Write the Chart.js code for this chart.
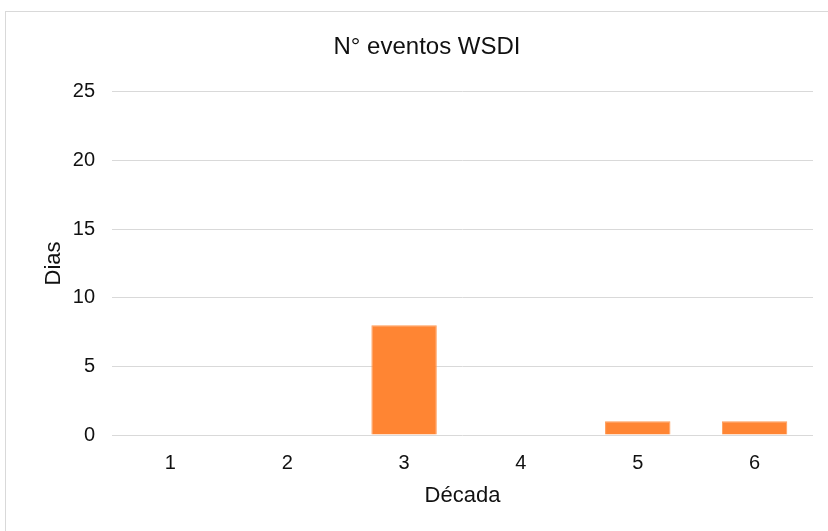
<!DOCTYPE html>
<html>
<head>
<meta charset="utf-8">
<script src="https://cdn.jsdelivr.net/npm/chart.js@4/dist/chart.umd.min.js"></script>
<style>
  html, body { margin: 0; padding: 0; background: #fff; overflow: hidden; }
  #frame {
    position: absolute; left: 5px; top: 11px; width: 860px; height: 560px;
    border: 1px solid #d9d9d9;
  }
  #wrap { position: absolute; left: 0; top: 0; width: 828px; height: 531px; }
</style>
</head>
<body>
<div id="frame"></div>
<div id="wrap"><canvas id="chart"></canvas></div>
<script>
// data
const decadas = ['1', '2', '3', '4', '5', '6'];
const eventos = [0, 0, 8, 0, 1, 1];
const yMax = 25;
const yStep = 5;

Chart.defaults.font.family = "'Liberation Sans', Arial, sans-serif";
Chart.defaults.color = '#111';

const ctx = document.getElementById('chart').getContext('2d');
new Chart(ctx, {
  type: 'bar',
  data: {
    labels: decadas,
    datasets: [{
      label: 'N° eventos WSDI',
      data: eventos,
      backgroundColor: '#FF8533',
      borderColor: '#FF9a55',
      borderWidth: 1,
      categoryPercentage: 1,
      barPercentage: 0.56
    }]
  },
  options: {
    responsive: true,
    maintainAspectRatio: false,
    animation: false,
    layout: { padding: { left: 41, right: 15, top: 33, bottom: 22 } },
    plugins: {
      legend: { display: false },
      tooltip: { enabled: false },
      title: {
        display: true,
        text: 'N° eventos WSDI',
        font: { size: 24, weight: 'normal' },
        color: '#111',
        padding: { top: 0, bottom: 30 }
      }
    },
    scales: {
      x: {
        grid: { display: false, drawTicks: false },
        border: { display: false },
        ticks: { font: { size: 20 }, padding: 16, color: '#111' },
        title: {
          display: true,
          text: 'Década',
          font: { size: 22 },
          color: '#111',
          padding: { top: 8, bottom: 0 }
        },
        afterFit: (scale) => { scale.height = 74; }
      },
      y: {
        min: 0,
        max: yMax,
        ticks: { stepSize: yStep, font: { size: 20 }, padding: 17, color: '#111' },
        grid: { color: '#d9d9d9', lineWidth: 1, drawTicks: false },
        border: { display: false },
        title: {
          display: true,
          text: 'Dias',
          font: { size: 22 },
          color: '#111',
          padding: 0
        },
        afterFit: (scale) => { scale.width = 71; }
      }
    }
  }
});
</script>
</body>
</html>
